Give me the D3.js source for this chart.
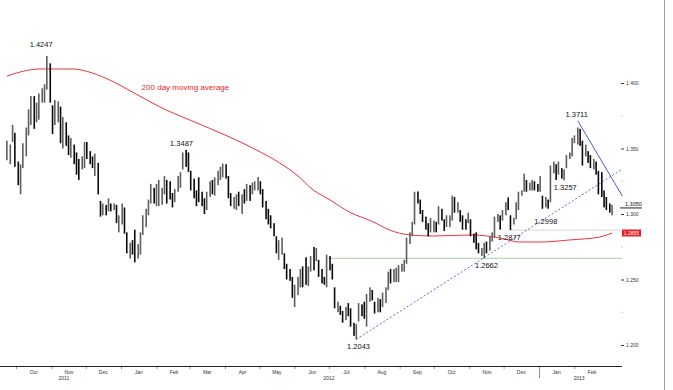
<!DOCTYPE html>
<html>
<head>
<meta charset="utf-8">
<script src="https://cdn.jsdelivr.net/npm/d3@7"></script>
<style>
  html, body { margin: 0; padding: 0; background: #fff; }
  svg { display: block; font-family: "Liberation Sans", Arial, sans-serif; }
</style>
</head>
<body>
<div id="chart"></div>
<script>
// EUR/USD, one bar every Mon / Wed / Fri, Sep 23 2011 -> Mar 6 2013
const firstBar = new Date(2011, 8, 23);
const lastBar  = new Date(2013, 2, 7);

const lows = [
  1.3410,
  1.3380, 1.3550, 1.3360,  // Sep 26
  1.3220, 1.3150, 1.3350,  // Oct 3
  1.3440, 1.3600, 1.3680,  // Oct 10
  1.3650, 1.3700, 1.3720,  // Oct 17
  1.3850, 1.3850, 1.3950,  // Oct 24
  1.3850, 1.3610, 1.3680,  // Oct 31
  1.3700, 1.3540, 1.3500,  // Nov 7
  1.3520, 1.3450, 1.3430,  // Nov 14
  1.3380, 1.3300, 1.3260,  // Nov 21
  1.3340, 1.3350, 1.3420,  // Nov 28
  1.3380, 1.3350, 1.3290,  // Dec 5
  1.3150, 1.2980, 1.2990,  // Dec 12
  1.2990, 1.3020, 1.3020,  // Dec 19
  1.3030, 1.2930, 1.2860,  // Dec 26
  1.2920, 1.2850, 1.2700,  // Jan 2 2012
  1.2660, 1.2690, 1.2630,  // Jan 9
  1.2660, 1.2690, 1.2840,  // Jan 16
  1.2900, 1.2990, 1.3080,  // Jan 23
  1.3080, 1.3060, 1.3060,  // Jan 30
  1.3070, 1.3150, 1.3080,  // Feb 6
  1.3110, 1.3050, 1.3090,  // Feb 13
  1.3170, 1.3200, 1.3340,  // Feb 20
  1.3360, 1.3320, 1.3180,  // Feb 27
  1.3120, 1.3060, 1.3090,  // Mar 5
  1.3060, 1.3000, 1.3030,  // Mar 12
  1.3130, 1.3150, 1.3140,  // Mar 19
  1.3220, 1.3260, 1.3280,  // Mar 26
  1.3270, 1.3120, 1.3060,  // Apr 2
  1.3040, 1.3030, 1.3060,  // Apr 9
  1.3000, 1.3080, 1.3100,  // Apr 16
  1.3100, 1.3150, 1.3180,  // Apr 23
  1.3180, 1.3150, 1.3050,  // Apr 30
  1.2960, 1.2920, 1.2890,  // May 7
  1.2830, 1.2700, 1.2650,  // May 14
  1.2690, 1.2580, 1.2500,  // May 21
  1.2490, 1.2360, 1.2290,  // May 28
  1.2380, 1.2440, 1.2440,  // Jun 4
  1.2460, 1.2450, 1.2560,  // Jun 11
  1.2570, 1.2640, 1.2520,  // Jun 18
  1.2470, 1.2460, 1.2440,  // Jun 25
  1.2570, 1.2500, 1.2280,  // Jul 2
  1.2250, 1.2230, 1.2170,  // Jul 9
  1.2190, 1.2220, 1.2140,  // Jul 16
  1.2070, 1.2043, 1.2180,  // Jul 23
  1.2220, 1.2200, 1.2140,  // Jul 30
  1.2330, 1.2340, 1.2240,  // Aug 6
  1.2250, 1.2250, 1.2290,  // Aug 13
  1.2320, 1.2420, 1.2470,  // Aug 20
  1.2480, 1.2480, 1.2480,  // Aug 27
  1.2560, 1.2560, 1.2620,  // Sep 3
  1.2770, 1.2830, 1.2920,  // Sep 10
  1.3080, 1.3000, 1.2940,  // Sep 17
  1.2880, 1.2830, 1.2860,  // Sep 24
  1.2860, 1.2860, 1.2920,  // Oct 1
  1.2950, 1.2870, 1.2900,  // Oct 8
  1.2900, 1.2950, 1.3010,  // Oct 15
  1.3010, 1.2940, 1.2880,  // Oct 22
  1.2880, 1.2930, 1.2830,  // Oct 29
  1.2780, 1.2730, 1.2700,  // Nov 5
  1.2680, 1.2662, 1.2700,  // Nov 12
  1.2720, 1.2790, 1.2820,  // Nov 19
  1.2940, 1.2880, 1.2950,  // Nov 26
  1.2990, 1.3030, 1.2877,  // Dec 3
  1.2920, 1.2960, 1.3030,  // Dec 10
  1.3140, 1.3170, 1.3170,  // Dec 17
  1.3180, 1.3180, 1.3180,  // Dec 24
  1.3170, 1.3170, 1.3040,  // Dec 31
  1.3050, 1.3040, 1.3090,  // Jan 7 2013
  1.3310, 1.3260, 1.3300,  // Jan 14
  1.3270, 1.3257, 1.3350,  // Jan 21
  1.3420, 1.3440, 1.3540,  // Jan 28
  1.3530, 1.3520, 1.3370,  // Feb 4
  1.3440, 1.3390, 1.3350,  // Feb 11
  1.3340, 1.3300, 1.3150,  // Feb 18
  1.3130, 1.3050, 1.3030,  // Feb 25
  1.3010, 1.2990           // Mar 4
];

const highs = [
  1.3560,
  1.3530, 1.3680, 1.3620,
  1.3400, 1.3380, 1.3540,
  1.3660, 1.3800, 1.3900,
  1.3900, 1.3850, 1.3920,
  1.3960, 1.3990, 1.4206,
  1.4150, 1.3830, 1.3870,
  1.3860, 1.3820, 1.3740,
  1.3700, 1.3600, 1.3580,
  1.3530, 1.3470, 1.3420,
  1.3440, 1.3550, 1.3550,
  1.3480, 1.3440, 1.3460,
  1.3390, 1.3100, 1.3080,
  1.3070, 1.3120, 1.3080,
  1.3080, 1.3070, 1.2990,
  1.3080, 1.3050, 1.2860,
  1.2780, 1.2800, 1.2880,
  1.2770, 1.2860, 1.2990,
  1.3040, 1.3110, 1.3230,
  1.3200, 1.3230, 1.3260,
  1.3200, 1.3290, 1.3260,
  1.3250, 1.3160, 1.3190,
  1.3290, 1.3320, 1.3470,
  1.3490, 1.3470, 1.3330,
  1.3270, 1.3180, 1.3280,
  1.3170, 1.3120, 1.3170,
  1.3250, 1.3260, 1.3280,
  1.3330, 1.3360, 1.3385,
  1.3380, 1.3290, 1.3160,
  1.3130, 1.3150, 1.3170,
  1.3150, 1.3190, 1.3230,
  1.3220, 1.3240, 1.3250,
  1.3283, 1.3250, 1.3190,
  1.3100, 1.3040, 1.2990,
  1.2930, 1.2830, 1.2800,
  1.2820, 1.2700, 1.2620,
  1.2580, 1.2520, 1.2460,
  1.2520, 1.2580, 1.2600,
  1.2670, 1.2600, 1.2680,
  1.2748, 1.2740, 1.2650,
  1.2580, 1.2520, 1.2690,
  1.2680, 1.2620, 1.2440,
  1.2330, 1.2300, 1.2260,
  1.2290, 1.2320, 1.2280,
  1.2170, 1.2160, 1.2320,
  1.2310, 1.2330, 1.2390,
  1.2440, 1.2420, 1.2330,
  1.2360, 1.2350, 1.2400,
  1.2440, 1.2560, 1.2580,
  1.2580, 1.2590, 1.2610,
  1.2620, 1.2650, 1.2820,
  1.2860, 1.2940, 1.3170,
  1.3172, 1.3110, 1.3030,
  1.2980, 1.2930, 1.2970,
  1.2950, 1.2940, 1.3060,
  1.3040, 1.2960, 1.2990,
  1.2990, 1.3140, 1.3130,
  1.3090, 1.3030, 1.2990,
  1.2960, 1.3010, 1.2960,
  1.2850, 1.2860, 1.2780,
  1.2740, 1.2780, 1.2790,
  1.2830, 1.2860, 1.2980,
  1.3000, 1.2990, 1.3030,
  1.3090, 1.3127, 1.2990,
  1.2970, 1.3090, 1.3170,
  1.3180, 1.3308, 1.3260,
  1.3240, 1.3260, 1.3250,
  1.3230, 1.3290, 1.3140,
  1.3130, 1.3110, 1.3370,
  1.3400, 1.3380, 1.3400,
  1.3350, 1.3340, 1.3450,
  1.3470, 1.3580, 1.3600,
  1.3660, 1.3650, 1.3560,
  1.3530, 1.3480, 1.3450,
  1.3420, 1.3400, 1.3330,
  1.3320, 1.3180, 1.3130,
  1.3080, 1.3070
];

const closes = [
  1.3500,
  1.3500, 1.3600, 1.3390,
  1.3260, 1.3350, 1.3380,
  1.3620, 1.3780, 1.3880,
  1.3700, 1.3780, 1.3900,
  1.3900, 1.3920, 1.4130,
  1.3860, 1.3720, 1.3760,
  1.3780, 1.3560, 1.3720,
  1.3550, 1.3480, 1.3520,
  1.3400, 1.3350, 1.3330,
  1.3420, 1.3450, 1.3430,
  1.3400, 1.3380, 1.3380,
  1.3180, 1.3000, 1.3040,
  1.3010, 1.3060, 1.3050,
  1.3050, 1.2950, 1.2960,
  1.3050, 1.2870, 1.2720,
  1.2750, 1.2710, 1.2680,
  1.2700, 1.2850, 1.2930,
  1.3020, 1.3080, 1.3200,
  1.3110, 1.3150, 1.3150,
  1.3150, 1.3260, 1.3200,
  1.3180, 1.3090, 1.3160,
  1.3250, 1.3300, 1.3450,
  1.3420, 1.3340, 1.3200,
  1.3140, 1.3130, 1.3110,
  1.3100, 1.3030, 1.3150,
  1.3220, 1.3200, 1.3250,
  1.3310, 1.3320, 1.3340,
  1.3320, 1.3140, 1.3080,
  1.3100, 1.3120, 1.3080,
  1.3140, 1.3110, 1.3210,
  1.3160, 1.3230, 1.3240,
  1.3240, 1.3160, 1.3080,
  1.3060, 1.2950, 1.2910,
  1.2840, 1.2720, 1.2780,
  1.2790, 1.2590, 1.2520,
  1.2510, 1.2380, 1.2420,
  1.2500, 1.2560, 1.2520,
  1.2500, 1.2570, 1.2640,
  1.2620, 1.2700, 1.2560,
  1.2500, 1.2490, 1.2660,
  1.2590, 1.2520, 1.2290,
  1.2290, 1.2250, 1.2240,
  1.2280, 1.2270, 1.2160,
  1.2120, 1.2140, 1.2300,
  1.2260, 1.2230, 1.2380,
  1.2400, 1.2360, 1.2290,
  1.2340, 1.2270, 1.2340,
  1.2420, 1.2540, 1.2510,
  1.2520, 1.2540, 1.2590,
  1.2590, 1.2610, 1.2800,
  1.2850, 1.2920, 1.3130,
  1.3100, 1.3030, 1.2980,
  1.2910, 1.2870, 1.2880,
  1.2920, 1.2900, 1.3040,
  1.2970, 1.2880, 1.2950,
  1.2960, 1.3110, 1.3020,
  1.3060, 1.2970, 1.2940,
  1.2920, 1.2960, 1.2840,
  1.2800, 1.2760, 1.2710,
  1.2710, 1.2750, 1.2740,
  1.2810, 1.2830, 1.2970,
  1.2970, 1.2950, 1.2980,
  1.3060, 1.3050, 1.2930,
  1.2940, 1.3070, 1.3160,
  1.3170, 1.3270, 1.3190,
  1.3220, 1.3230, 1.3220,
  1.3190, 1.3190, 1.3070,
  1.3090, 1.3060, 1.3350,
  1.3380, 1.3300, 1.3320,
  1.3310, 1.3320, 1.3440,
  1.3450, 1.3560, 1.3580,
  1.3600, 1.3540, 1.3400,
  1.3470, 1.3420, 1.3380,
  1.3390, 1.3320, 1.3190,
  1.3150, 1.3080, 1.3060,
  1.3040, 1.3050
];

// 200 day moving average, read every couple of weeks
const maDates = [
  "2011-09-23", "2011-10-22", "2011-11-20", "2011-12-07", "2011-12-22",
  "2012-01-11", "2012-02-04", "2012-03-01", "2012-04-05", "2012-05-02",
  "2012-05-19", "2012-06-06", "2012-06-14", "2012-07-02", "2012-07-19",
  "2012-08-09", "2012-08-23", "2012-09-10", "2012-09-30", "2012-11-04",
  "2012-11-28", "2012-12-15", "2013-01-02", "2013-01-28", "2013-02-23",
  "2013-03-06"
];
const maValues = [
  1.4053, 1.4107, 1.4107, 1.4076, 1.4023,
  1.3931, 1.3817, 1.3718, 1.3588, 1.3473,
  1.3389, 1.3275, 1.3206, 1.3107, 1.3015,
  1.2939, 1.2878, 1.2840, 1.2832, 1.2840,
  1.2817, 1.2786, 1.2786, 1.2802, 1.2824,
  1.2855
];

// price annotations: text, date, price level, side of the bar
const annotations = [
  { text: "1.4247", date: "2011-10-23", price: 1.4247, side: "above" },
  { text: "1.3487", date: "2012-02-23", price: 1.3487, side: "above" },
  { text: "1.3711", date: "2013-02-03", price: 1.3711, side: "above" },
  { text: "1.3257", date: "2013-01-24", price: 1.3257, side: "below" },
  { text: "1.2998", date: "2013-01-07", price: 1.2998, side: "below" },
  { text: "1.2877", date: "2012-12-06", price: 1.2877, side: "below" },
  { text: "1.2662", date: "2012-11-16", price: 1.2662, side: "below" },
  { text: "1.2043", date: "2012-07-27", price: 1.2043, side: "below" }
];

// trend lines and levels: [date, price] pairs
const supportLine    = [["2012-07-25", 1.2043], ["2013-03-15", 1.3343]];
const resistanceLine = [["2013-02-04", 1.3711], ["2013-03-15", 1.3137]];
const levelLow       = [["2012-06-30", 1.2662], ["2013-03-15", 1.2662]];
const levelMid       = [["2012-12-07", 1.2877], ["2013-03-15", 1.2877]];

const priceTicks = [1.20, 1.25, 1.30, 1.35, 1.40];
const minorTicks = [1.225, 1.275, 1.325, 1.375];
const yearLabels = [
  { text: "2011", date: "2011-11-12" },
  { text: "2012", date: "2012-07-01" },
  { text: "2013", date: "2013-02-05" }
];
const maLabel = { text: "200 day moving average", date: "2012-01-19", price: 1.3947 };

// -------------------------------------------------------------------------

const W = 673, H = 390;
const parse = d3.timeParse("%Y-%m-%d");
const fmt4 = d3.format(".4f");

const dates = d3.timeDay.range(firstBar, lastBar)
  .filter(d => [1, 3, 5].includes(d.getDay()));
const n = Math.min(dates.length, lows.length, highs.length, closes.length);
const bars = d3.range(n).map(i => ({
  date: dates[i], low: lows[i], high: highs[i], close: closes[i],
  down: i > 0 && closes[i] < closes[i - 1]
}));

const x = d3.scaleTime()
  .domain([new Date(2011, 9, 1), new Date(2013, 0, 1)])
  .range([16, 539]);
const y = d3.scaleLinear().domain([1.20, 1.40]).range([345, 83]);

const svg = d3.select("#chart").append("svg")
  .attr("width", W).attr("height", H)
  .attr("viewBox", `0 0 ${W} ${H}`);

// right frame line
svg.append("line")
  .attr("x1", 664.5).attr("x2", 664.5).attr("y1", 0).attr("y2", H)
  .attr("stroke", "#a0a0a0");

// ── horizontal levels ────────────────────────────────────────────────
const seg = pts => pts.map(([d, p]) => [x(parse(d)), y(p)]);
const line = d3.line();

svg.append("path").attr("d", line(seg(levelLow)))
  .attr("fill", "none").attr("stroke", "#a9c9a4").attr("stroke-width", 1);
svg.append("path").attr("d", line(seg(levelMid)))
  .attr("fill", "none").attr("stroke", "#d6d6d6").attr("stroke-width", 1);

// ── moving average ───────────────────────────────────────────────────
const maLine = d3.line()
  .x((d, i) => x(parse(maDates[i])))
  .y(d => y(d))
  .curve(d3.curveMonotoneX);
svg.append("path").attr("d", maLine(maValues))
  .attr("fill", "none").attr("stroke", "#ec1c24").attr("stroke-width", 0.9);

// ── price bars ───────────────────────────────────────────────────────
svg.append("g").selectAll("rect")
  .data(bars)
  .join("rect")
  .attr("x", d => x(d.date) - 0.8)
  .attr("width", 1.6)
  .attr("y", d => y(d.high))
  .attr("height", d => Math.max(1, y(d.low) - y(d.high)))
  .attr("fill", d => d.down ? "#0a0a0a" : "#5e5e5e");

// ── trend lines ──────────────────────────────────────────────────────
svg.append("path").attr("d", line(seg(supportLine)))
  .attr("fill", "none").attr("stroke", "#4d5bc8").attr("stroke-width", 0.9)
  .attr("stroke-dasharray", "2,2");
svg.append("path").attr("d", line(seg(resistanceLine)))
  .attr("fill", "none").attr("stroke", "#4d5bc8").attr("stroke-width", 1);

// ── annotations ──────────────────────────────────────────────────────
svg.append("g").selectAll("text")
  .data(annotations)
  .join("text")
  .attr("x", d => x(parse(d.date)))
  .attr("y", d => y(d.price) + (d.side === "above" ? -4 : 10))
  .attr("text-anchor", "middle")
  .attr("font-size", "7.5px")
  .attr("fill", "#111")
  .text(d => d.text);

svg.append("text")
  .attr("x", x(parse(maLabel.date)))
  .attr("y", y(maLabel.price))
  .attr("font-size", "8px")
  .attr("fill", "#ec1c24")
  .text(maLabel.text);

// ── bottom axis ──────────────────────────────────────────────────────
const axisY = 366;
svg.append("line")
  .attr("x1", 0).attr("x2", 622).attr("y1", axisY + 0.5).attr("y2", axisY + 0.5)
  .attr("stroke", "#222");

const months = d3.timeMonth.range(new Date(2011, 9, 1), new Date(2013, 2, 1));
const gx = svg.append("g").attr("transform", `translate(0,${axisY})`)
  .call(d3.axisBottom(x)
    .tickValues(months.map(m => d3.timeDay.offset(m, 15)))
    .tickFormat(d3.timeFormat("%b"))
    .tickSize(0)
    .tickPadding(4));
gx.select(".domain").remove();
gx.selectAll("text").attr("font-size", "5px").attr("fill", "#333")
  .attr("font-family", "'Liberation Sans', Arial, sans-serif");

svg.append("g").selectAll("line")
  .data(months)
  .join("line")
  .attr("x1", d => x(d) + 0.5).attr("x2", d => x(d) + 0.5)
  .attr("y1", axisY + 1).attr("y2", axisY + 3)
  .attr("stroke", "#999");

svg.append("g").selectAll("text")
  .data(yearLabels)
  .join("text")
  .attr("x", d => x(parse(d.date)))
  .attr("y", axisY + 14)
  .attr("text-anchor", "middle")
  .attr("font-size", "5px")
  .attr("fill", "#333")
  .text(d => d.text);

// year separator
svg.append("line")
  .attr("x1", x(new Date(2013, 0, 1)) + 0.5).attr("x2", x(new Date(2013, 0, 1)) + 0.5)
  .attr("y1", axisY + 2).attr("y2", axisY + 12)
  .attr("stroke", "#7f8fc4");

// ── right price axis ─────────────────────────────────────────────────
const gy = svg.append("g").attr("transform", "translate(621,0)")
  .call(d3.axisRight(y)
    .tickValues(priceTicks)
    .tickFormat(d3.format(".3f"))
    .tickSize(3)
    .tickPadding(2));
gy.select(".domain").remove();
gy.selectAll("line").attr("stroke", "#333");
gy.selectAll("text").attr("font-size", "5px").attr("fill", "#333")
  .attr("font-family", "'Liberation Sans', Arial, sans-serif");

svg.append("g").selectAll("rect")
  .data(minorTicks)
  .join("rect")
  .attr("x", 621.5).attr("width", 1).attr("height", 1)
  .attr("y", d => y(d) - 0.5)
  .attr("fill", "#999");

// last price and moving average value
const lastClose = bars[n - 1].close;
svg.append("line")
  .attr("x1", 620).attr("x2", 642)
  .attr("y1", y(lastClose) + 0.5).attr("y2", y(lastClose) + 0.5)
  .attr("stroke", "#222");
svg.append("text")
  .attr("x", 625).attr("y", y(lastClose) - 1)
  .attr("font-size", "5.5px").attr("fill", "#111")
  .text(fmt4(lastClose));

const lastMa = maValues[maValues.length - 1];
svg.append("rect")
  .attr("x", 622).attr("y", y(lastMa) - 3.5)
  .attr("width", 19).attr("height", 7)
  .attr("fill", "#ec1c24");
svg.append("text")
  .attr("x", 631.5).attr("y", y(lastMa) + 2)
  .attr("text-anchor", "middle")
  .attr("font-size", "5px").attr("fill", "#fff")
  .text(fmt4(lastMa));
</script>
</body>
</html>
